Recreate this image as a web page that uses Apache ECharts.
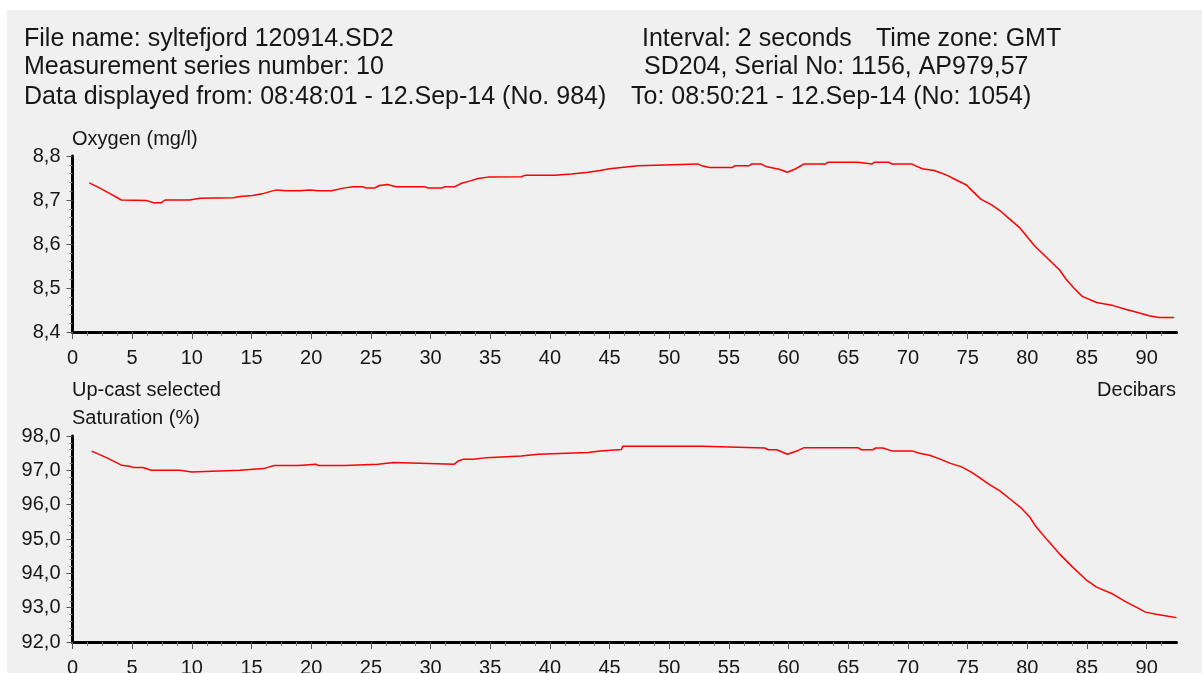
<!DOCTYPE html>
<html>
<head>
<meta charset="utf-8">
<script src="https://cdn.jsdelivr.net/npm/echarts@6/dist/echarts.min.js"></script>
<style>
html,body{margin:0;padding:0;background:#ffffff;}
#chart{width:1202px;height:673px;}
</style>
</head>
<body>
<div id="chart"></div>
<script>
// ---------- Header texts ----------
const headerLeft = [
  "File name: syltefjord 120914.SD2",
  "Measurement series number: 10",
  "Data displayed from: 08:48:01 - 12.Sep-14 (No. 984)"
];
const headerRight = [
  "Interval: 2 seconds",
  "SD204, Serial No: 1156, AP979,57",
  "To: 08:50:21 - 12.Sep-14 (No: 1054)"
];
const headerTimeZone = "Time zone: GMT";

const oxygenTitle = "Oxygen (mg/l)";
const castLabel = "Up-cast selected";
const saturationTitle = "Saturation (%)";
const xUnitLabel = "Decibars";

// ---------- Axis tick labels ----------
const xTickLabels = [0,5,10,15,20,25,30,35,40,45,50,55,60,65,70,75,80,85,90];
const oxygenTicks = [8.4,8.5,8.6,8.7,8.8];
const saturationTicks = [92,93,94,95,96,97,98];

// ---------- Oxygen (mg/l) vs pressure (decibars) ----------
const oxygenDepth = [1.4,2.3,3.1,4.1,6.2,6.75,7.45,7.75,9.8,10.7,13.5,14.0,15.1,16.0,17.1,17.9,19.0,19.9,20.6,21.7,22.7,23.5,24.3,24.6,25.3,25.7,26.4,27.1,29.5,29.8,30.9,31.2,32.0,32.6,33.4,34.0,34.8,37.6,37.9,40.4,40.5,41.8,41.9,43.2,43.3,44.2,44.3,45.0,45.1,46.0,46.1,47.4,47.5,52.4,52.7,53.4,55.3,55.5,56.7,56.9,57.7,58.1,59.2,59.9,60.6,61.3,63.1,63.3,65.8,65.9,67.0,67.2,68.4,68.6,70.3,70.7,71.2,72.2,72.6,73.2,74.0,74.9,75.3,76.1,77.0,77.7,78.5,79.4,80.6,81.6,82.7,83.25,83.9,84.6,85.8,87.2,88.3,89.4,90.2,91.05,92.3];
const oxygenValues = [8.739,8.727,8.715,8.700,8.699,8.694,8.694,8.700,8.700,8.704,8.705,8.708,8.710,8.715,8.723,8.721,8.721,8.723,8.721,8.721,8.727,8.730,8.730,8.727,8.727,8.733,8.735,8.730,8.730,8.727,8.727,8.730,8.730,8.738,8.744,8.749,8.752,8.753,8.756,8.756,8.759,8.759,8.763,8.763,8.767,8.767,8.771,8.771,8.774,8.774,8.778,8.778,8.782,8.782,8.778,8.774,8.774,8.778,8.778,8.782,8.782,8.776,8.770,8.763,8.771,8.782,8.782,8.786,8.786,8.782,8.782,8.786,8.786,8.782,8.782,8.777,8.771,8.767,8.763,8.757,8.746,8.734,8.723,8.702,8.689,8.676,8.657,8.636,8.596,8.570,8.541,8.520,8.500,8.481,8.467,8.460,8.451,8.443,8.437,8.433,8.433];

// ---------- Saturation (%) vs pressure (decibars) ----------
const saturationDepth = [1.6,2.85,4.1,4.8,5.1,5.9,6.6,9.0,9.1,10.0,10.1,14.0,14.15,16.0,16.1,16.9,18.9,19.0,20.4,20.6,22.8,22.95,25.6,25.7,26.9,27.05,32.0,32.3,32.7,33.55,33.7,34.7,34.8,37.6,37.7,39.0,39.1,43.2,43.3,44.2,44.3,46.0,46.1,52.8,52.96,58.0,58.3,59.0,59.9,60.8,61.3,65.8,66.1,67.05,67.3,67.9,68.7,70.4,70.96,71.8,72.6,73.5,74.5,75.3,76.0,76.7,77.7,78.5,79.4,80.2,80.7,81.7,82.8,83.8,84.9,85.8,87.2,88.3,89.2,89.9,90.8,91.8,92.5];
const saturationValues = [97.56,97.37,97.15,97.12,97.08,97.08,97.00,97.00,96.95,96.95,97.00,97.00,97.05,97.05,97.10,97.14,97.14,97.18,97.18,97.14,97.14,97.18,97.18,97.23,97.23,97.18,97.18,97.27,97.32,97.32,97.37,97.37,97.42,97.42,97.47,97.47,97.52,97.52,97.56,97.56,97.61,97.61,97.70,97.70,97.65,97.65,97.60,97.60,97.47,97.58,97.66,97.66,97.60,97.60,97.65,97.65,97.56,97.56,97.50,97.44,97.34,97.21,97.10,96.95,96.79,96.61,96.40,96.18,95.93,95.64,95.37,94.96,94.53,94.18,93.82,93.60,93.39,93.16,93.00,92.87,92.81,92.75,92.71];

// ---------- Build ----------
const FONT = "'Liberation Sans', Arial, sans-serif";
const TXT = "#161616";
const xMin = 0, xMax = 92.5;

const xMinorTicks = [];
for (let i = 1; i * 1.25 < xMax; i++) {
  const v = i * 1.25;
  if (Math.abs(v / 5 - Math.round(v / 5)) > 1e-9) xMinorTicks.push(v);
}

const comma = v => Number(v).toFixed(1).replace('.', ',');

function zip(a, b) { return a.map((x, i) => [x, b[i]]); }

const gridDefs = [
  { left: 72.5, right: 25.5, top: 156, height: 176, containLabel: false, outerBoundsMode: 'none' },
  { left: 72.5, right: 25.5, top: 436, height: 206, containLabel: false, outerBoundsMode: 'none' }
];

function mainX(g) {
  return {
    type: 'value', gridIndex: g, min: xMin, max: xMax, position: 'bottom',
    axisLine: { show: true, onZero: false, lineStyle: { color: '#000', width: 3 } },
    axisTick: { show: true, customValues: xTickLabels, length: 7, lineStyle: { color: '#555', width: 1 } },
    axisLabel: { customValues: xTickLabels, fontFamily: FONT, fontSize: 20, color: TXT, margin: 16 },
    splitLine: { show: false }
  };
}
function minorX(g) {
  return {
    type: 'value', gridIndex: g, min: xMin, max: xMax, position: 'bottom', offset: 0,
    axisLine: { show: false },
    axisTick: { show: true, customValues: xMinorTicks, length: 4, lineStyle: { color: '#777', width: 1 } },
    axisLabel: { show: false },
    splitLine: { show: false }
  };
}
function yAx(g, ticks, interval) {
  return {
    type: 'value', gridIndex: g, min: ticks[0], max: ticks[ticks.length - 1], interval: interval,
    axisLine: { show: true, onZero: false, lineStyle: { color: '#000', width: 3 } },
    axisTick: { show: true, length: 6, lineStyle: { color: '#555', width: 1 } },
    minorTick: { show: true, splitNumber: 5, length: 3, lineStyle: { color: '#777', width: 1 } },
    axisLabel: { fontFamily: FONT, fontSize: 20, color: TXT, margin: 12, formatter: comma },
    splitLine: { show: false }, minorSplitLine: { show: false }
  };
}

function txt(x, y, s, size, align) {
  return { type: 'text', x: x, y: y, silent: true,
    style: { text: s, fontFamily: FONT, fontSize: size, fill: TXT, align: align || 'left', verticalAlign: 'middle' } };
}

const graphics = [
  { type: 'rect', shape: { x: 0, y: 0, width: 1202, height: 10 }, style: { fill: '#ffffff' }, silent: true },
  { type: 'rect', shape: { x: 0, y: 0, width: 7, height: 673 }, style: { fill: '#ffffff' }, silent: true },
  txt(24, 39, headerLeft[0], 25),
  txt(24, 67, headerLeft[1], 25),
  txt(24, 97, headerLeft[2], 25),
  txt(642, 39, headerRight[0], 25),
  txt(876, 39, headerTimeZone, 25),
  txt(644, 67, headerRight[1], 25),
  txt(631, 97, headerRight[2], 25),
  txt(72, 139, oxygenTitle, 20),
  txt(72, 390, castLabel, 20),
  txt(72, 418, saturationTitle, 20),
  txt(1176, 390, xUnitLabel, 20, 'right')
];

const chart = echarts.init(document.getElementById('chart'), null, { renderer: 'canvas' });
chart.setOption({
  backgroundColor: '#f0f0f0',
  animation: false,
  grid: gridDefs,
  xAxis: [mainX(0), minorX(0), mainX(1), minorX(1)],
  yAxis: [yAx(0, oxygenTicks, 0.1), yAx(1, saturationTicks, 1)],
  graphic: graphics,
  series: [
    { type: 'line', xAxisIndex: 0, yAxisIndex: 0, data: zip(oxygenDepth, oxygenValues),
      showSymbol: false, lineStyle: { color: '#ff0000', width: 1.5 }, clip: true },
    { type: 'line', xAxisIndex: 2, yAxisIndex: 1, data: zip(saturationDepth, saturationValues),
      showSymbol: false, lineStyle: { color: '#ff0000', width: 1.5 }, clip: true }
  ]
});
</script>
</body>
</html>
